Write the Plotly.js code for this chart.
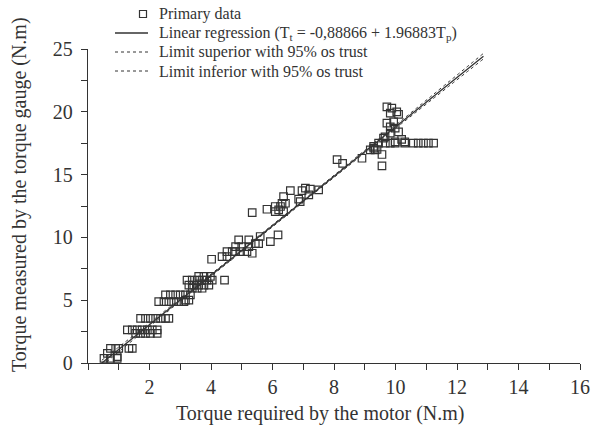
<!DOCTYPE html>
<html>
<head>
<meta charset="utf-8">
<script src="https://cdn.plot.ly/plotly-3.0.1.min.js"></script>
<style>html,body{margin:0;padding:0;background:#fff;}#chart{width:604px;height:425px;}</style>
</head>
<body>
<div id="chart"></div>
<script>
// Primary data (torque required by motor, torque measured by gauge)
const dataX = [
  0.52,0.63,0.73,0.95,0.95,0.73,0.9,1.0,1.33,1.44,
  1.28,1.44,1.6,1.76,1.93,2.09,2.25,1.55,1.71,1.87,2.03,2.25,
  1.71,1.87,2.03,2.2,2.36,2.52,2.63,
  2.3,2.47,2.63,2.79,2.95,3.12,2.52,2.68,2.85,3.0,3.17,3.33,3.17,3.28,
  3.22,3.39,3.55,3.71,3.87,4.04,3.28,3.44,3.6,3.77,3.93,3.39,3.55,3.71,3.6,3.77,3.98,4.44,4.02,
  4.36,4.52,4.52,4.69,4.8,4.96,5.17,4.8,5.0,5.23,4.9,5.23,5.34,5.44,5.55,5.6,5.93,6.18,
  5.34,5.82,6.09,6.09,6.26,6.36,6.42,6.58,6.36,6.85,6.96,7.07,7.23,7.18,7.5,6.9,6.2,6.31,
  8.1,8.28,8.91,9.18,9.29,9.34,9.56,9.56,
  9.67,9.83,9.99,10.3,10.58,10.74,10.91,11.07,11.24,
  9.72,9.88,10.04,10.1,9.72,9.94,9.83,10.1,10.2,9.61,9.45,9.29,9.4,10.3,9.99,9.83,9.83,9.66,9.99
];
const dataY = [
  0.37,0.77,0.37,0.37,0.5,1.17,1.17,1.17,1.17,1.17,
  2.63,2.63,2.63,2.63,2.63,2.63,2.63,2.36,2.36,2.36,2.36,2.36,
  3.56,3.56,3.56,3.56,3.56,3.56,3.56,
  4.89,4.89,4.89,4.89,4.89,4.89,5.42,5.42,5.42,5.42,5.42,5.42,5.0,5.0,
  6.6,6.6,6.6,6.6,6.6,6.6,6.2,6.2,6.2,6.2,6.2,5.95,5.95,5.95,6.9,6.9,6.9,6.6,8.26,
  8.47,8.47,8.87,8.87,8.87,8.87,8.87,9.27,9.27,9.27,9.8,9.8,8.74,9.5,9.5,10.07,9.67,10.2,
  11.98,12.24,12.46,12.06,12.46,13.25,12.72,13.73,12.06,13.04,13.73,13.92,13.84,13.39,13.78,12.85,12.19,12.72,
  16.2,15.9,16.3,16.97,17.24,16.97,16.6,15.7,
  17.5,17.5,17.5,17.5,17.5,17.5,17.5,17.5,17.5,
  20.4,20.3,20.0,19.8,19.1,19.2,18.3,18.4,17.8,17.9,17.5,17.1,17.0,17.6,17.6,18.8,19.9,18.0,18.7
];
// Regression line Tt = -0.88866 + 1.96883 Tp
const lineX = [0.45, 12.86];
const lineY = [0.0, 24.43];
// 95% confidence limits
const ciX = [0.45, 3, 6, 9, 12.86];
const ciUpper = [0.22, 5.12, 11.0, 16.93, 24.65];
const ciLower = [-0.22, 4.92, 10.84, 16.73, 24.21];
const xTicks = [2,4,6,8,10,12,14,16];
const yTicks = [0,5,10,15,20,25];
const legendLabels = [
  'Primary data',
  'Linear regression (T<sub>t</sub> = -0,88866 + 1.96883T<sub>p</sub>)',
  'Limit superior with 95% os trust',
  'Limit inferior with 95% os trust'
];
const xTitle = 'Torque required by the motor (N.m)';
const yTitle = 'Torque measured by the torque gauge (N.m)';

const ink = '#333333';
const serif = '"Liberation Serif", "DejaVu Serif", serif';
const traces = [
  {x:dataX, y:dataY, type:'scatter', mode:'markers', name:legendLabels[0],
   marker:{symbol:'square-open', size:7.5, color:ink, line:{width:1.2, color:ink}}},
  {x:lineX, y:lineY, type:'scatter', mode:'lines', name:legendLabels[1],
   line:{color:ink, width:1.3}},
  {x:ciX, y:ciUpper, type:'scatter', mode:'lines', name:legendLabels[2],
   line:{color:ink, width:1, dash:'dot', shape:'spline'}},
  {x:ciX, y:ciLower, type:'scatter', mode:'lines', name:legendLabels[3],
   line:{color:ink, width:1, dash:'dot', shape:'spline'}}
];

// plot area geometry (pixels) for the hand-made legend and titles
const L = 88, R = 24, T = 49, B = 62, W = 604, H = 425;
const pw = W - L - R, ph = H - T - B;
const px = v => (v - L) / pw;
const py = v => (H - B - v) / ph;
const rowsY = [14, 33, 52, 71];
const annotations = legendLabels.map((t, i) => ({
  xref:'paper', yref:'paper', x:px(157), y:py(rowsY[i]), xanchor:'left', yanchor:'middle',
  text:t, showarrow:false, font:{size:16, color:ink, family:serif}
}));
annotations.push({xref:'paper', yref:'paper', x:px(320), y:py(413), xanchor:'center', yanchor:'middle',
  text:xTitle, showarrow:false, font:{size:20, color:ink, family:serif}});
annotations.push({xref:'paper', yref:'paper', x:px(19), y:py(195), xanchor:'center', yanchor:'middle',
  textangle:-90, text:yTitle, showarrow:false, font:{size:20, color:ink, family:serif}});
const shapes = [
  {type:'rect', xref:'paper', yref:'paper', x0:px(139.5), x1:px(146.5), y0:py(rowsY[0]-3.5), y1:py(rowsY[0]+3.5),
   line:{color:ink, width:1.2}},
  {type:'line', xref:'paper', yref:'paper', x0:px(115), x1:px(148), y0:py(rowsY[1]), y1:py(rowsY[1]),
   line:{color:ink, width:1.3}},
  {type:'line', xref:'paper', yref:'paper', x0:px(115), x1:px(148), y0:py(rowsY[2]), y1:py(rowsY[2]),
   line:{color:ink, width:1, dash:'dot'}},
  {type:'line', xref:'paper', yref:'paper', x0:px(115), x1:px(148), y0:py(rowsY[3]), y1:py(rowsY[3]),
   line:{color:ink, width:1, dash:'dot'}}
];

const layout = {
  width:W, height:H,
  margin:{l:L, r:R, t:T, b:B},
  paper_bgcolor:'#fff', plot_bgcolor:'#fff',
  font:{family:serif, color:ink},
  showlegend:false,
  annotations:annotations,
  shapes:shapes,
  xaxis:{range:[0,16], tickvals:xTicks, ticktext:xTicks.map(String), showgrid:false, zeroline:false,
         showline:true, linecolor:ink, linewidth:1.3, ticks:'outside', ticklen:6, tickcolor:ink,
         tickfont:{size:20}, minor:{dtick:1, tick0:0, ticks:'outside', ticklen:6, tickcolor:ink}},
  yaxis:{range:[0,25], tickvals:yTicks, showgrid:false, zeroline:false,
         showline:true, linecolor:ink, linewidth:1.3, ticks:'outside', ticklen:6, tickcolor:ink,
         tickfont:{size:20}, ticklabelstandoff:4,
         minor:{dtick:2.5, tick0:0, ticks:'outside', ticklen:6, tickcolor:ink}}
};
Plotly.newPlot('chart', traces, layout, {displayModeBar:false, staticPlot:true});
</script>
</body>
</html>
